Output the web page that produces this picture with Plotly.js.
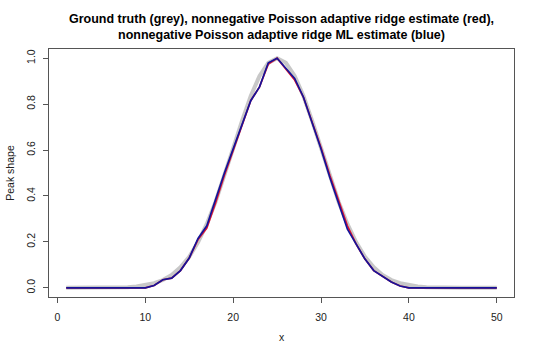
<!DOCTYPE html>
<html>
<head>
<meta charset="utf-8">
<script src="https://cdn.plot.ly/plotly-3.0.1.min.js"></script>
<style>html,body{margin:0;padding:0;background:#fff;}#chart{width:540px;height:359px;}</style>
</head>
<body>
<div id="chart"></div>
<script>
const xValues = [1,2,3,4,5,6,7,8,9,10,11,12,13,14,15,16,17,18,19,20,21,22,23,24,25,26,27,28,29,30,31,32,33,34,35,36,37,38,39,40,41,42,43,44,45,46,47,48,49,50];
const groundTruth = [0,0,0,0,0,0.0007,0.0015,0.003,0.006,0.011,0.020,0.034,0.056,0.089,0.135,0.198,0.278,0.375,0.487,0.607,0.726,0.835,0.923,0.980,1.0,0.980,0.923,0.835,0.726,0.607,0.487,0.375,0.278,0.198,0.135,0.089,0.056,0.034,0.020,0.011,0.006,0.003,0.0015,0.0007,0,0,0,0,0,0];
const ridgeEstimate = [0,0,0,0,0,0,0,0,0,0,0.01,0.035,0.042,0.075,0.13,0.21,0.26,0.37,0.49,0.60,0.71,0.815,0.875,0.975,1.0,0.95,0.905,0.83,0.722,0.61,0.49,0.375,0.27,0.19,0.125,0.075,0.05,0.025,0.008,0,0,0,0,0,0,0,0,0,0,0];
const ridgeML = [0,0,0,0,0,0,0,0,0,0,0.01,0.035,0.042,0.075,0.13,0.215,0.27,0.39,0.50,0.605,0.71,0.815,0.875,0.98,1.0,0.955,0.912,0.83,0.72,0.605,0.48,0.365,0.255,0.19,0.125,0.075,0.05,0.025,0.008,0,0,0,0,0,0,0,0,0,0,0];
const xTicks = [0,10,20,30,40,50];
const yTicks = [0,0.2,0.4,0.6,0.8,1.0];

const traces = [
  {x: xValues, y: groundTruth, type: 'scatter', mode: 'lines', line: {color: 'rgba(190,190,190,0.85)', width: 4}, hoverinfo: 'skip'},
  {x: xValues, y: ridgeEstimate, type: 'scatter', mode: 'lines', line: {color: '#e01030', width: 1.7}, hoverinfo: 'skip'},
  {x: xValues, y: ridgeML, type: 'scatter', mode: 'lines', line: {color: '#14149a', width: 1.7}, hoverinfo: 'skip'}
];

const axisFont = {family: 'Liberation Sans, Arial, sans-serif', size: 10.5, color: '#222'};
const layout = {
  width: 540, height: 359,
  margin: {l: 49, r: 26, t: 49, b: 62},
  paper_bgcolor: '#fff', plot_bgcolor: '#fff',
  showlegend: false,
  title: {
    text: '<b>Ground truth (grey), nonnegative Poisson adaptive ridge estimate (red),<br>nonnegative Poisson adaptive ridge ML estimate (blue)</b>',
    font: {family: 'Liberation Sans, Arial, sans-serif', size: 12.5, color: '#000'},
    x: 0.5, xref: 'paper', y: 0.937, yref: 'container', yanchor: 'top'
  },
  xaxis: {
    range: [-0.96, 51.96], tickvals: xTicks, ticktext: xTicks.map(String),
    ticks: 'outside', ticklen: 5, tickcolor: '#555', tickwidth: 1,
    showline: true, mirror: true, linecolor: '#555', linewidth: 1,
    showgrid: false, zeroline: false, tickfont: axisFont, ticklabelstandoff: 5,
    title: {text: 'x', font: axisFont, standoff: 12}
  },
  yaxis: {
    range: [-0.04, 1.04], tickvals: yTicks, ticktext: yTicks.map(v => v.toFixed(1)),
    tickangle: -90,
    ticks: 'outside', ticklen: 5, tickcolor: '#555', tickwidth: 1,
    showline: true, mirror: true, linecolor: '#555', linewidth: 1,
    showgrid: false, zeroline: false, tickfont: axisFont, ticklabelstandoff: 4,
    title: {text: 'Peak shape', font: axisFont, standoff: 8}
  }
};
Plotly.newPlot('chart', traces, layout, {displayModeBar: false, staticPlot: true});
</script>
</body>
</html>
